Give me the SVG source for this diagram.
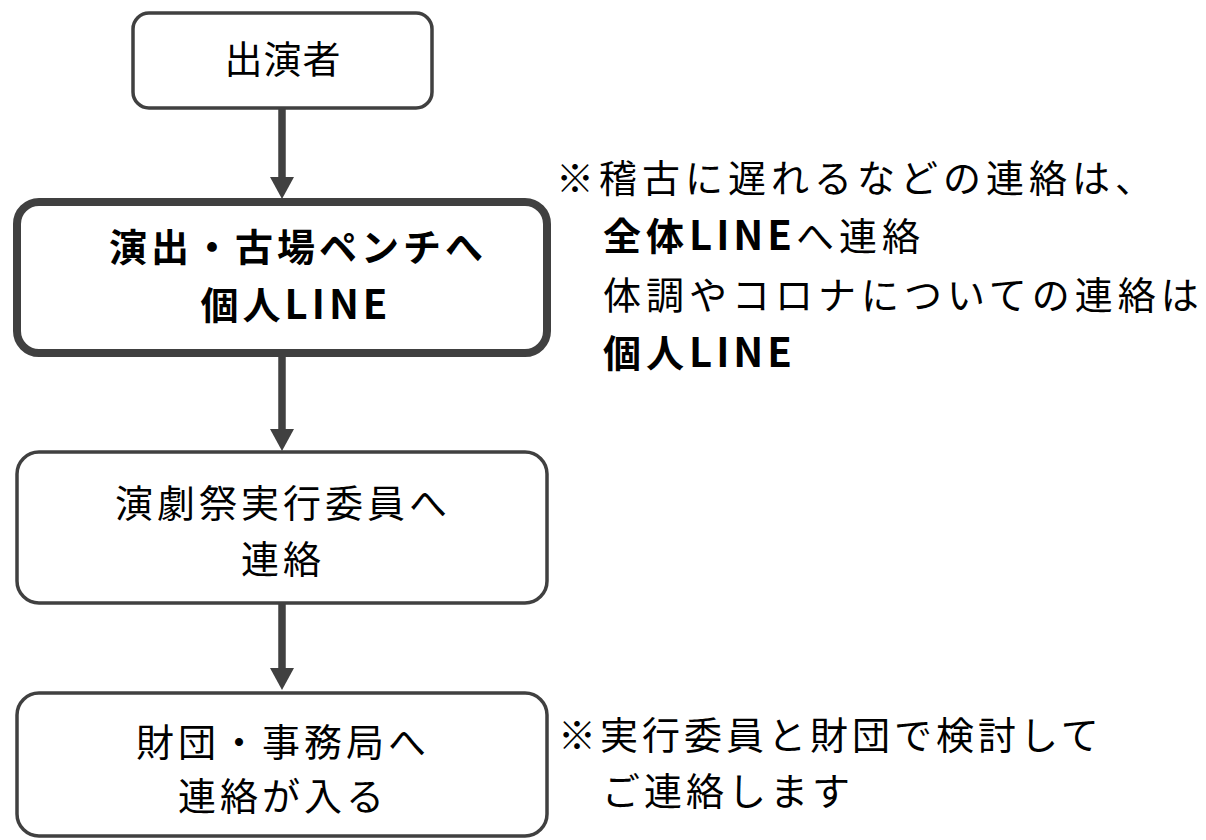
<svg xmlns="http://www.w3.org/2000/svg" width="1206" height="840" viewBox="0 0 1206 840">
  <style>
    .box { fill: #ffffff; stroke: #404040; stroke-width: 3.5; }
    .box-strong { fill: #ffffff; stroke: #404040; stroke-width: 8; }
    .conn { stroke: #404040; stroke-width: 7.5; fill: none; }
    text { font-family: "Noto Sans CJK JP", "Noto Sans", sans-serif; font-size: 38px; fill: #000000; letter-spacing: 4px; }
    .c { text-anchor: middle; }
    .b { font-weight: bold; }
    .lat { font-size: 40px; letter-spacing: 4px; }
    .note { letter-spacing: 5px; }
  </style>
  <defs>
    <marker id="ah" markerUnits="userSpaceOnUse" markerWidth="24" markerHeight="26" viewBox="0 -13 24 26" refX="1" refY="0" orient="auto">
      <path d="M0,-12 L22,0 L0,12 Z" fill="#404040"/>
    </marker>
  </defs>

  <rect width="1206" height="840" fill="#ffffff"/>

  <g id="connectors">
    <path class="conn" d="M282,108 L282,178" marker-end="url(#ah)"/>
    <path class="conn" d="M282,353 L282,430" marker-end="url(#ah)"/>
    <path class="conn" d="M282,603 L282,669" marker-end="url(#ah)"/>
  </g>

  <g id="node-performer">
    <rect class="box" x="133" y="13" width="299" height="95" rx="16"/>
    <text class="c" x="283" y="73" style="letter-spacing:1px">出演者</text>
  </g>

  <g id="node-director">
    <rect class="box-strong" x="17" y="202" width="530" height="151" rx="22"/>
    <text class="c b" x="298" y="261">演出・古場ペンチへ</text>
    <text class="c b" x="296" y="319">個人<tspan class="lat">LINE</tspan></text>
  </g>

  <g id="node-committee">
    <rect class="box" x="17" y="452" width="530" height="151" rx="22"/>
    <text class="c" x="283" y="517">演劇祭実行委員へ</text>
    <text class="c" x="283" y="573">連絡</text>
  </g>

  <g id="node-office">
    <rect class="box" x="17" y="693" width="530" height="143" rx="22"/>
    <text class="c" x="283" y="756">財団・事務局へ</text>
    <text class="c" x="283" y="810">連絡が入る</text>
  </g>

  <g id="note-top">
    <text class="note" x="556" y="192">※稽古に遅れるなどの連絡は、</text>
    <text class="note" x="603" y="250"><tspan class="b">全体</tspan><tspan class="b lat">LINE</tspan>へ連絡</text>
    <text class="note" x="603" y="309">体調やコロナについての連絡は</text>
    <text class="note" x="603" y="367"><tspan class="b">個人</tspan><tspan class="b lat">LINE</tspan></text>
  </g>

  <g id="note-bottom">
    <text x="558" y="749">※実行委員と財団で検討して</text>
    <text x="602" y="805">ご連絡します</text>
  </g>
</svg>
